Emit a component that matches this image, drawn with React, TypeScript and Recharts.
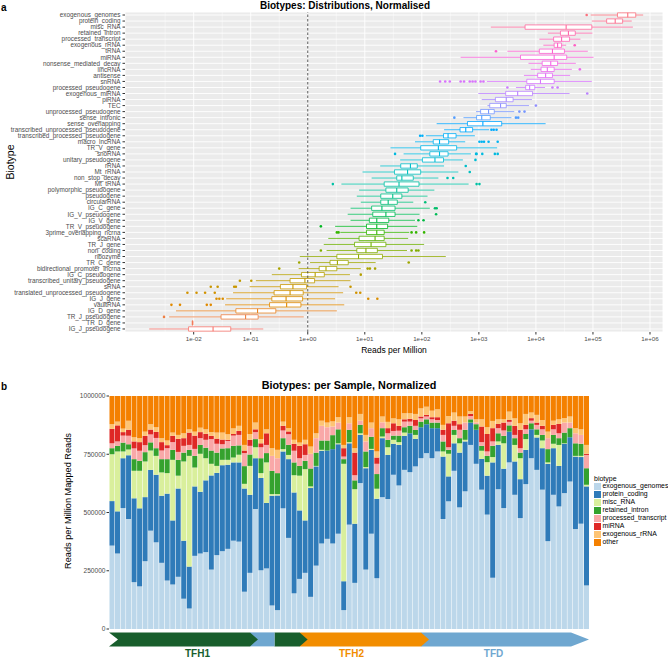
import React from "react";
import {
  ScatterChart,
  Scatter,
  BarChart,
  Bar,
  XAxis,
  YAxis,
  CartesianGrid,
  ReferenceArea,
  ReferenceLine,
} from "recharts";

// Two-panel figure: (a) per-biotype boxplots of reads per million on a log axis,
// (b) stacked per-sample biotype composition with a group arrow band underneath.

const FONT = '"Liberation Sans", Arial, Helvetica, sans-serif';
const INK = "#4d4d4d";

// ─────────────────────────────────────────────────────────────────────
// Panel a data — values are log10(reads per million).
// Rows listed top to bottom.
// ─────────────────────────────────────────────────────────────────────

const biotypes = [
  "exogenous_genomes", "protein_coding", "misc_RNA", "retained_intron",
  "processed_transcript", "exogenous_rRNA", "tRNA", "miRNA",
  "nonsense_mediated_decay", "lincRNA", "antisense", "snRNA",
  "processed_pseudogene", "exogenous_miRNA", "piRNA", "TEC",
  "unprocessed_pseudogene", "sense_intronic", "sense_overlapping",
  "transcribed_unprocessed_pseudogene", "transcribed_processed_pseudogene",
  "macro_lncRNA", "TR_V_gene", "snoRNA", "unitary_pseudogene", "rRNA",
  "Mt_rRNA", "non_stop_decay", "Mt_tRNA", "polymorphic_pseudogene",
  "pseudogene", "circularRNA", "IG_C_gene", "IG_V_pseudogene", "IG_V_gene",
  "TR_V_pseudogene", "3prime_overlapping_ncrna", "scaRNA", "TR_J_gene",
  "non_coding", "ribozyme", "TR_C_gene", "bidirectional_promoter_lncrna",
  "IG_C_pseudogene", "transcribed_unitary_pseudogene", "sRNA",
  "translated_unprocessed_pseudogene", "IG_J_gene", "vaultRNA", "IG_D_gene",
  "TR_J_pseudogene", "TR_D_gene", "IG_J_pseudogene",
];

const whiskerLoLog = [
  4.96, 4.98, 3.21, 4.21, 4.06, 4.13, 3.5, 2.68, 3.87, 3.91, 3.79, 3.14, 3.65,
  2.99, 3.05, 3.15, 2.95, 2.73, 2.26, 2.39, 2.07, 1.88, 1.45, 1.68, 1.62, 1.27,
  0.96, 1.12, 0.59, 0.9, 0.86, 0.93, 0.75, 0.7, 0.75, 0.48, 0.57, 0.36, 0.28,
  0.33, -0.14, 0.04, -0.16, -0.63, -0.91, -1.02, -1.31, -1.43, -1.45, -2.31,
  -2.43, -2.03, -2.78,
];
const q1Log = [
  5.43, 5.24, 3.81, 4.43, 4.31, 4.32, 4.06, 3.73, 4.11, 4.09, 4.03, 3.84, 3.82,
  3.47, 3.29, 3.19, 3.03, 2.96, 2.8, 2.67, 2.38, 2.2, 1.98, 2.14, 2.01, 1.63,
  1.52, 1.56, 1.34, 1.37, 1.28, 1.28, 1.12, 1.14, 1.08, 1.03, 1.03, 0.9, 0.82,
  0.86, 0.51, 0.39, 0.2, -0.11, -0.31, -0.48, -0.59, -0.63, -0.67, -1.26,
  -1.52, -2.026, -2.09,
];
const medianLog = [
  5.61, 5.39, 4.53, 4.57, 4.45, 4.38, 4.29, 4.32, 4.26, 4.2, 4.17, 4.08, 3.89,
  3.68, 3.48, 3.38, 3.17, 3.05, 3.07, 2.77, 2.46, 2.31, 2.29, 2.31, 2.23, 1.8,
  1.75, 1.65, 1.6, 1.56, 1.49, 1.41, 1.3, 1.37, 1.21, 1.21, 1.21, 1.18, 1.11,
  1.02, 0.89, 0.52, 0.32, 0.13, -0.05, -0.26, -0.31, -0.38, -0.37, -0.88,
  -1.09, -2.02, -1.66,
];
const q3Log = [
  5.75, 5.52, 4.98, 4.69, 4.59, 4.45, 4.5, 4.54, 4.38, 4.32, 4.29, 4.32, 3.98,
  3.94, 3.6, 3.48, 3.27, 3.2, 3.4, 2.89, 2.6, 2.47, 2.61, 2.46, 2.38, 1.92,
  1.98, 1.85, 1.95, 1.76, 1.65, 1.57, 1.53, 1.53, 1.42, 1.4, 1.34, 1.34, 1.37,
  1.22, 1.31, 0.71, 0.51, 0.29, 0.12, -0.02, -0.08, -0.09, -0.12, -0.56,
  -0.87, -2.014, -1.35,
];
const whiskerHiLog = [
  5.88, 5.68, 5.7, 4.99, 4.78, 4.53, 4.91, 5.01, 4.7, 4.63, 4.6, 4.98, 4.16,
  4.59, 3.93, 3.88, 3.62, 3.57, 4.17, 3.18, 2.93, 2.76, 3.32, 2.86, 2.72, 2.39,
  2.64, 2.29, 2.82, 2.22, 2.1, 1.85, 2.14, 1.96, 1.88, 1.92, 1.78, 1.76, 2.04,
  1.74, 2.42, 1.19, 0.93, 0.74, 0.75, 0.54, 0.62, 0.48, 0.64, 0.51, -0.07,
  -2.01, -0.78,
];
const outliersLog: number[][] = [
  [4.89], [], [], [], [], [4.68], [3.3], [], [], [4.77], [],
  [2.32, 2.41, 2.49, 2.68, 2.74, 2.84, 2.89, 2.94, 3.03, 3.08],
  [3.5, 4.29, 4.38], [4.9], [], [4.0], [3.71, 3.8], [2.57, 3.65, 3.69], [],
  [3.22, 3.26, 3.31], [1.97, 2.01], [3.01, 3.05, 3.09, 3.17, 3.33], [],
  [1.53, 2.95, 2.96, 3.06, 3.28, 3.33], [2.94], [2.77], [2.84], [2.45, 2.55],
  [0.44, 2.96, 3.01], [], [], [2.06], [2.23, 2.26], [2.25], [1.94, 2.03],
  [0.23], [0.51, 0.54, 1.82, 1.9, 2.04], [], [], [0.23, 1.82, 1.9, 1.94], [],
  [-0.15, 1.77], [-0.5, 1.05, 1.09, 1.18], [0.93], [-1.19, -0.99],
  [-1.7, -1.58, -1.29, -1.26, 0.75], [-2.11, -1.95, -1.8, -1.63, 0.85, 0.92],
  [-1.6, -1.55, -1.49, 1.06, 1.22], [-2.39, -2.24, -1.77, -1.7], [], [-2.52],
  [], [],
];

const majorTicks = [1e-2, 1e-1, 1, 1e1, 1e2, 1e3, 1e4, 1e5, 1e6];
const minorTicks = [
  10 ** -2.5, 10 ** -1.5, 10 ** -0.5, 10 ** 0.5, 10 ** 1.5, 10 ** 2.5,
  10 ** 3.5, 10 ** 4.5, 10 ** 5.5,
];

// ─────────────────────────────────────────────────────────────────────
// Panel b data — thousands of reads per million, one entry per sample.
// ─────────────────────────────────────────────────────────────────────

const exogenousGenomes = [
  358, 324, 519, 472, 201, 183, 291, 422, 372, 284, 208, 191, 224, 130, 88, 314,
  324, 330, 255, 317, 334, 344, 379, 375, 160, 241, 515, 252, 260, 101, 81, 518,
  391, 153, 215, 241, 138, 272, 367, 387, 367, 409, 81, 448, 198, 626, 255, 409,
  218, 566, 558, 662, 616, 683, 673, 698, 733, 755, 733, 762, 472, 548, 679, 522,
  591, 790, 709, 598, 491, 220, 600, 519, 715, 576, 476, 622, 733, 683, 598, 377,
  576, 526, 583, 633, 429, 452, 187,
];
const proteinCoding = [
  191, 181, 214, 274, 360, 335, 275, 261, 290, 288, 373, 275, 379, 249, 180, 298,
  265, 308, 404, 353, 369, 361, 336, 340, 443, 335, 218, 396, 281, 471, 492, 244,
  338, 433, 294, 225, 467, 426, 398, 379, 405, 384, 124, 349, 254, 207, 435, 360,
  341, 253, 189, 133, 174, 146, 167, 118, 133, 124, 129, 100, 268, 107, 118, 235,
  214, 96, 146, 132, 167, 495, 190, 169, 132, 143, 167, 147, 124, 139, 178, 332,
  200, 174, 212, 190, 311, 286, 425,
];
const miscRna = [
  201, 257, 29, 24, 118, 161, 153, 83, 81, 100, 88, 260, 55, 340, 475, 81, 163,
  95, 50, 30, 23, 21, 21, 33, 20, 124, 47, 21, 174, 7, 6, 10, 18, 74, 149, 220, 7,
  2, 4, 0, 0, 4, 504, 5, 148, 7, 5, 4, 43, 7, 33, 17, 12, 14, 0, 17, 0, 0, 0, 0,
  22, 97, 36, 40, 7, 0, 0, 35, 58, 23, 15, 109, 0, 71, 90, 46, 0, 11, 33, 6, 19,
  90, 2, 0, 3, 5, 7,
];
const retainedIntron = [
  26, 24, 38, 23, 50, 43, 40, 35, 33, 57, 60, 43, 68, 38, 26, 50, 38, 45, 57, 57,
  49, 50, 50, 40, 76, 49, 35, 64, 40, 100, 90, 47, 43, 55, 42, 36, 77, 57, 40, 43,
  60, 60, 20, 53, 38, 36, 67, 52, 63, 36, 32, 18, 28, 23, 32, 21, 24, 21, 24, 24,
  43, 17, 21, 22, 43, 14, 24, 21, 27, 48, 35, 32, 27, 29, 24, 22, 26, 24, 24, 57,
  38, 29, 46, 39, 54, 52, 71,
];
const processedTranscript = [
  21, 19, 30, 36, 46, 43, 30, 34, 44, 37, 47, 33, 34, 29, 21, 30, 29, 34, 49, 38,
  18, 31, 44, 45, 56, 37, 30, 47, 35, 64, 64, 33, 46, 50, 33, 25, 63, 62, 63, 57,
  37, 29, 11, 28, 22, 18, 43, 37, 44, 25, 28, 20, 21, 24, 18, 18, 14, 12, 14, 11,
  28, 11, 18, 36, 31, 14, 7, 16, 19, 19, 22, 23, 15, 14, 19, 20, 11, 19, 24, 47,
  24, 21, 43, 24, 43, 38, 57,
];
const miRna = [
  62, 69, 15, 26, 30, 37, 40, 21, 26, 36, 13, 27, 56, 33, 53, 57, 26, 26, 14, 22,
  20, 5, 7, 17, 11, 26, 12, 17, 50, 0, 0, 20, 12, 30, 53, 46, 0, 0, 0, 0, 0, 0,
  36, 0, 97, 0, 0, 0, 27, 0, 22, 33, 21, 10, 12, 25, 8, 7, 9, 12, 22, 103, 22, 24,
  0, 9, 0, 67, 75, 57, 18, 34, 8, 39, 79, 19, 11, 10, 15, 0, 19, 40, 0, 0, 0, 0, 5,
];
const exogenousRrna = [
  20, 16, 15, 39, 18, 17, 18, 23, 20, 17, 20, 14, 17, 21, 14, 17, 19, 19, 16, 26,
  30, 24, 24, 22, 24, 25, 29, 18, 17, 33, 36, 18, 14, 17, 14, 19, 31, 21, 22, 20,
  22, 23, 14, 26, 19, 29, 28, 24, 26, 25, 27, 21, 28, 26, 24, 26, 35, 35, 28, 34,
  21, 31, 35, 33, 26, 12, 14, 31, 29, 31, 20, 14, 36, 32, 28, 47, 24, 33, 25, 28,
  18, 20, 19, 26, 22, 24, 38,
];
const otherBiotypes = [
  121, 110, 140, 106, 177, 181, 153, 121, 134, 181, 191, 157, 167, 160, 143, 153,
  136, 143, 155, 157, 157, 164, 139, 128, 210, 163, 114, 185, 143, 224, 231, 110,
  138, 188, 200, 188, 217, 160, 106, 114, 109, 91, 210, 91, 224, 77, 167, 114,
  238, 88, 111, 96, 100, 74, 74, 77, 53, 46, 63, 57, 124, 86, 71, 88, 88, 65, 100,
  100, 134, 107, 100, 100, 67, 96, 117, 77, 71, 81, 103, 153, 106, 100, 95, 88,
  138, 143, 210,
];

const stackTicks = [0, 250000, 500000, 750000, 1000000];

// group band under the bars (sample index ranges, inclusive)
const groupName = ["TFH1", "TFD", "TFH1", "TFH2", "TFD"];
const groupStart = [0, 27, 30, 36, 58];
const groupEnd = [26, 29, 35, 57, 86];

// ─────────────────────────────────────────────────────────────────────
// colours
// ─────────────────────────────────────────────────────────────────────

// ggplot-style hue palette: hcl(h, c = 100, l = 65)
function hueColour(h: number): string {
  const L = 65;
  const C = 100;
  const hr = (h * Math.PI) / 180;
  const U = C * Math.cos(hr);
  const V = C * Math.sin(hr);
  const Xn = 0.95047, Yn = 1.0, Zn = 1.08883;
  const den = Xn + 15 * Yn + 3 * Zn;
  const un = (4 * Xn) / den;
  const vn = (9 * Yn) / den;
  const Y = Yn * Math.pow((L + 16) / 116, 3);
  const up = U / (13 * L) + un;
  const vp = V / (13 * L) + vn;
  const X = (Y * 9 * up) / (4 * vp);
  const Z = (Y * (12 - 3 * up - 20 * vp)) / (4 * vp);
  const lin = [
    3.2404542 * X - 1.5371385 * Y - 0.4985314 * Z,
    -0.969266 * X + 1.8760108 * Y + 0.041556 * Z,
    0.0556434 * X - 0.2040259 * Y + 1.0572252 * Z,
  ];
  const hex = lin
    .map((c) => {
      const g = c <= 0.0031308 ? 12.92 * c : 1.055 * Math.pow(c, 1 / 2.4) - 0.055;
      const v = Math.round(Math.min(1, Math.max(0, g)) * 255);
      return v.toString(16).padStart(2, "0");
    })
    .join("");
  return `#${hex}`;
}

const rowColour = biotypes.map((_, i) =>
  hueColour(15 + (360 * (biotypes.length - 1 - i)) / biotypes.length)
);

const SERIES = [
  { key: "exogenous_genomes", values: exogenousGenomes, colour: "#bcd7ea" },
  { key: "protein_coding", values: proteinCoding, colour: "#2f7bb9" },
  { key: "misc_RNA", values: miscRna, colour: "#d9ef9c" },
  { key: "retained_intron", values: retainedIntron, colour: "#35a22e" },
  { key: "processed_transcript", values: processedTranscript, colour: "#f9a8a8" },
  { key: "miRNA", values: miRna, colour: "#df2826" },
  { key: "exogenous_rRNA", values: exogenousRrna, colour: "#fdc474" },
  { key: "other", values: otherBiotypes, colour: "#f48000" },
];

const GROUP_COLOUR: Record<string, string> = {
  TFH1: "#185e2c",
  TFH2: "#f28d00",
  TFD: "#6fa7d0",
};

// ─────────────────────────────────────────────────────────────────────
// derived tables
// ─────────────────────────────────────────────────────────────────────

const pow10 = (e: number) => Math.pow(10, e);
const rowTicks = biotypes.map((_, i) => i);

const outlierPoints = outliersLog.flatMap((list, row) =>
  list.map((e) => ({ rpm: pow10(e), row, colour: rowColour[row] }))
);

const samples = exogenousGenomes.map((_, i) => `S${i + 1}`);
const sampleRows = samples.map((sample, i) => {
  const row: Record<string, number | string> = { sample };
  SERIES.forEach((s) => {
    row[s.key] = s.values[i] * 1000;
  });
  return row;
});

function fmtSci(v: number): string {
  const e = Math.round(Math.log10(v));
  return `1e${e < 0 ? "-" : "+"}${String(Math.abs(e)).padStart(2, "0")}`;
}

const BOX_HALF = 0.36;

function boxElements() {
  return biotypes.flatMap((_, i) => {
    const c = rowColour[i];
    return [
      <ReferenceLine
        key={`wl${i}`}
        segment={[
          { x: pow10(whiskerLoLog[i]), y: i },
          { x: pow10(q1Log[i]), y: i },
        ]}
        stroke={c}
        strokeWidth={0.8}
        ifOverflow="visible"
      />,
      <ReferenceLine
        key={`wh${i}`}
        segment={[
          { x: pow10(q3Log[i]), y: i },
          { x: pow10(whiskerHiLog[i]), y: i },
        ]}
        stroke={c}
        strokeWidth={0.8}
        ifOverflow="visible"
      />,
      <ReferenceArea
        key={`b${i}`}
        x1={pow10(q1Log[i])}
        x2={pow10(q3Log[i])}
        y1={i - BOX_HALF}
        y2={i + BOX_HALF}
        fill="#ffffff"
        fillOpacity={1}
        stroke={c}
        strokeWidth={0.8}
        ifOverflow="visible"
      />,
      <ReferenceLine
        key={`m${i}`}
        segment={[
          { x: pow10(medianLog[i]), y: i - BOX_HALF },
          { x: pow10(medianLog[i]), y: i + BOX_HALF },
        ]}
        stroke={c}
        strokeWidth={1.1}
        ifOverflow="visible"
      />,
    ];
  });
}

function DistributionPanel() {
  return (
    <ScatterChart width={668} height={360} margin={{ top: 12, right: 5, bottom: 0, left: 0 }}>
      <CartesianGrid fill="#ebebeb" stroke="#ffffff" strokeWidth={0.9} />
      <CartesianGrid horizontal={false} verticalValues={minorTicks} stroke="#ffffff" strokeWidth={0.45} />
      <XAxis
        type="number"
        dataKey="rpm"
        scale="log"
        domain={[pow10(-3.204), pow10(6.228)]}
        allowDataOverflow
        ticks={majorTicks}
        tickFormatter={fmtSci}
        tick={{ fontSize: 6.2, fill: INK }}
        tickSize={2.5}
        tickLine={{ stroke: "#333" }}
        axisLine={false}
        height={28}
      />
      <YAxis
        type="number"
        dataKey="row"
        domain={[-0.5, biotypes.length - 0.5]}
        reversed
        ticks={rowTicks}
        interval={0}
        tickFormatter={(i: number) => biotypes[i] ?? ""}
        tick={{ fontSize: 6.35, fill: INK }}
        tickSize={2.5}
        tickLine={{ stroke: "#333" }}
        axisLine={false}
        width={125}
        allowDataOverflow
      />
      <ReferenceLine x={1} stroke="#333" strokeWidth={0.8} strokeDasharray="2.5 2" />
      {boxElements()}
      <Scatter
        data={outlierPoints}
        isAnimationActive={false}
        shape={(p: any) => <circle cx={p.cx} cy={p.cy} r={1.3} fill={p.payload.colour} />}
      />
    </ScatterChart>
  );
}

function arrowShape(seg: number) {
  const first = seg === 0;
  const last = seg === groupName.length - 1;
  const plain = groupName[seg] === "TFD" && !last;
  const tip = last ? 18 : plain ? 0 : 8;
  const under = first || seg === 2 ? 0 : 8;
  const notch = first ? 9 : 0;
  const colour = GROUP_COLOUR[groupName[seg]];
  return (p: any) => {
    const { x, y, width, height } = p;
    const m = y + height / 2;
    const left = x - under;
    const right = x + width;
    const neck = right - tip;
    const d =
      `M${left},${y}L${neck},${y}L${right},${m}L${neck},${y + height}L${left},${y + height}` +
      (notch ? `L${left + notch},${m}` : "") +
      "Z";
    return <path d={d} fill={colour} />;
  };
}

function SamplePanel() {
  const order = groupName.map((_, i) => i).reverse();
  return (
    <BarChart
      width={668}
      height={290}
      data={sampleRows}
      margin={{ top: 26, right: 79, bottom: 31, left: 0 }}
      barCategoryGap="9%"
    >
      <XAxis dataKey="sample" hide />
      <YAxis
        type="number"
        domain={[0, 1000000]}
        ticks={stackTicks}
        interval={0}
        tick={{ fontSize: 6.6, fill: INK }}
        tickSize={2.5}
        tickMargin={1}
        tickLine={{ stroke: "#333" }}
        axisLine={false}
        width={109}
      />
      {SERIES.map((s) => (
        <Bar key={s.key} dataKey={s.key} stackId="biotype" fill={s.colour} isAnimationActive={false} />
      ))}
      {order.map((g) => (
        <ReferenceArea
          key={`grp${g}`}
          x1={samples[groupStart[g]]}
          x2={samples[groupEnd[g]]}
          y1={-14600}
          y2={-74600}
          ifOverflow="visible"
          shape={arrowShape(g)}
        />
      ))}
    </BarChart>
  );
}

const abs = (extra: React.CSSProperties): React.CSSProperties => ({
  position: "absolute",
  whiteSpace: "nowrap",
  lineHeight: 1,
  ...extra,
});

export default function App() {
  return (
    <div
      style={{
        position: "absolute",
        left: 0,
        top: 0,
        width: 668,
        height: 660,
        background: "#ffffff",
        fontFamily: FONT,
        color: "#000",
        overflow: "hidden",
      }}
    >
      <div style={abs({ left: 0, top: 0 })}>
        <DistributionPanel />
      </div>
      <div style={abs({ left: 0, top: 370 })}>
        <SamplePanel />
      </div>

      <div style={abs({ left: 1, top: 3, fontSize: 10, fontWeight: 700 })}>a</div>
      <div style={abs({ left: 345, top: 6, fontSize: 10, fontWeight: 700, transform: "translate(-50%, -50%)" })}>
        Biotypes: Distributions, Normalised
      </div>
      <div style={abs({ left: 10, top: 162, fontSize: 10.5, transform: "translate(-50%, -50%) rotate(-90deg)" })}>
        Biotype
      </div>
      <div style={abs({ left: 394, top: 350, fontSize: 8.5, transform: "translate(-50%, -50%)" })}>
        Reads per Million
      </div>

      <div style={abs({ left: 1, top: 382, fontSize: 10, fontWeight: 700 })}>b</div>
      <div style={abs({ left: 349, top: 385, fontSize: 10.8, fontWeight: 700, transform: "translate(-50%, -50%)" })}>
        Biotypes: per Sample, Normalized
      </div>
      <div style={abs({ left: 69, top: 501, fontSize: 9.2, transform: "translate(-50%, -50%) rotate(-90deg)" })}>
        Reads per Million Mapped Reads
      </div>

      <div style={abs({ left: 197.5, top: 654, fontSize: 10, fontWeight: 700, color: GROUP_COLOUR.TFH1, transform: "translate(-50%, -50%)" })}>
        TFH1
      </div>
      <div style={abs({ left: 351.5, top: 654, fontSize: 10, fontWeight: 700, color: GROUP_COLOUR.TFH2, transform: "translate(-50%, -50%)" })}>
        TFH2
      </div>
      <div style={abs({ left: 493.5, top: 654, fontSize: 10, fontWeight: 700, color: GROUP_COLOUR.TFD, transform: "translate(-50%, -50%)" })}>
        TFD
      </div>

      <div style={abs({ left: 594, top: 475, fontSize: 7 })}>biotype</div>
      {SERIES.map((s, i) => (
        <div key={s.key} style={abs({ left: 594, top: 483 + i * 8, fontSize: 6.9, display: "flex", alignItems: "center" })}>
          <span style={{ display: "inline-block", width: 6.5, height: 6.5, background: s.colour, marginRight: 2 }} />
          <span>{s.key}</span>
        </div>
      ))}
    </div>
  );
}
